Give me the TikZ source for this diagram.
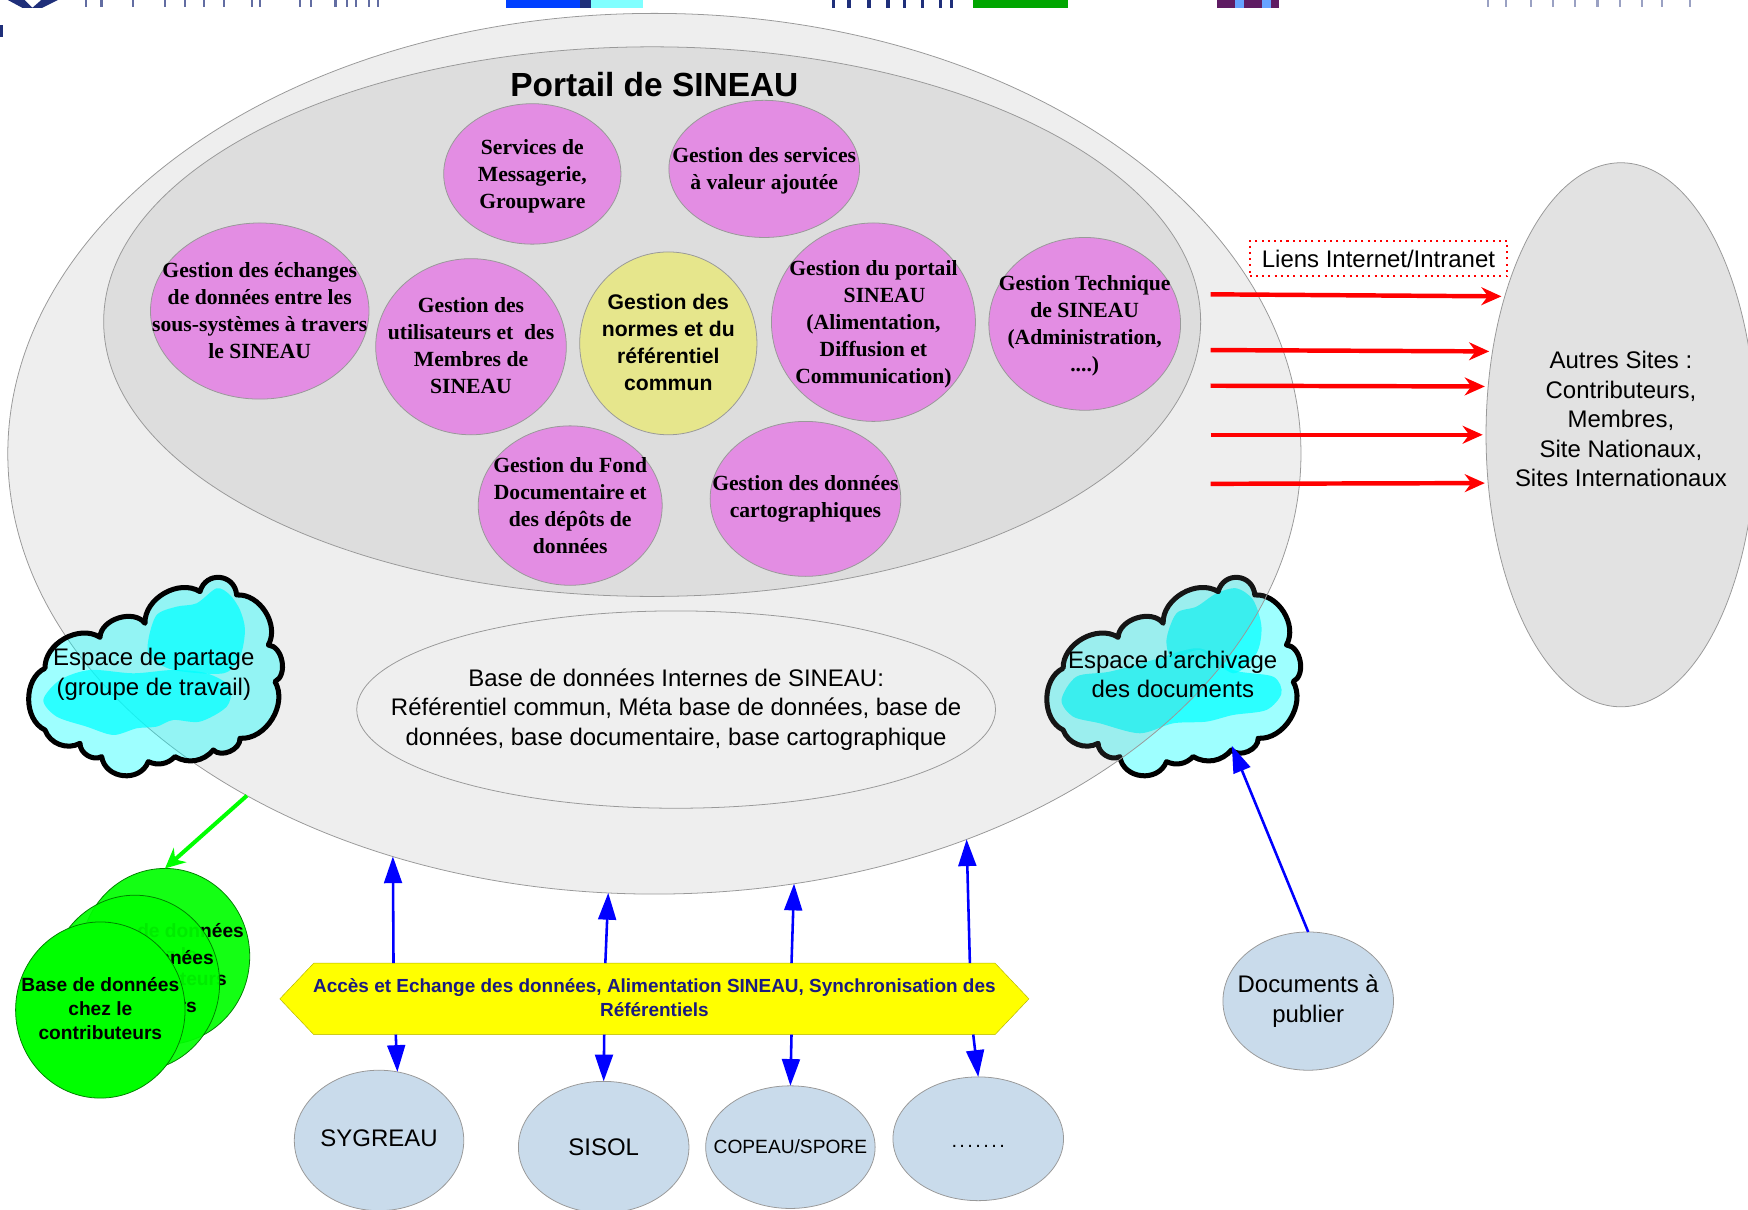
\documentclass[tikz,border=0pt]{standalone}
\usepackage{fontspec}
\setmainfont{Liberation Sans}
\newfontfamily\serifb{Liberation Serif}[BoldFont={Liberation Serif Bold}]
\usetikzlibrary{arrows.meta,shapes.geometric,shapes.symbols}
\definecolor{pinkf}{HTML}{E38DE3}
\definecolor{yellowf}{HTML}{E6E68C}
\definecolor{bluef}{HTML}{C9DBEB}
\definecolor{barnavy}{HTML}{1A1A80}
\definecolor{logonavy}{HTML}{1F2F7A}
\definecolor{cloudc}{RGB}{0,255,255}
\definecolor{barc}{RGB}{255,255,0}
\definecolor{shade}{RGB}{141,141,141}
\tikzset{
    pinktxt/.style={align=center,font=\fontsize{19.4}{24.2}\selectfont\serifb\bfseries},
    sanstxt/.style={align=center,font=\fontsize{21.5}{26.5}\selectfont},
    ell/.style={ellipse,draw=gray!80,line width=0.7pt,inner sep=0pt,outer sep=0pt},
    pinkell/.style={ell,fill=pinkf},
    blueell/.style={ell,fill=bluef},
    greenell/.style={ell,draw=green!50!black,fill=green,fill opacity=0.92,minimum width=152,minimum height=158,
        label={[align=center,yshift=1.5,font=\fontsize{17.2}{21.4}\selectfont\bfseries]center:{Base de données\\chez le\\contributeurs}}},
    redarrow/.style={draw=red,line width=4pt,shorten >=3pt,-{Stealth[length=18pt,width=16pt]}},
    bluearrow/.style={draw=blue,line width=2.3pt,-{Triangle[length=24pt,width=16pt]}},
    greenarrow/.style={draw=green,line width=3.6pt,-{Stealth[length=18pt,width=17pt]}},
    cloudedge/.style={draw=black,line width=4.5pt,line join=round},
    cloudfill/.style={fill=cloudc,fill opacity=0.38},
    blob/.style={fill=cloudc,fill opacity=0.72},
}
\newcommand\cloudline{(135,325) to[bend left=62] (300,232) to[bend left=70] (435,190) to[bend left=62] (600,95)
    to[bend left=80,looseness=1.5] (710,105) to[bend left=62] (805,255) to[bend left=75] (825,365) to[bend left=62] (720,535)
    to[bend left=70] (640,570) to[bend left=40] (525,590) to[bend left=35] (445,605) to[bend left=75,looseness=1.25] (305,590)
    to[bend left=60] (240,550) to[bend left=50] (135,510) to[bend left=65] cycle}
\begin{document}
\begin{tikzpicture}[x=1pt,y=-1pt]
    \useasboundingbox(0,0)rectangle(1568,1085);
    % bandeau du haut
    \fill[logonavy](7,0)--(22,0)--(29,7)--(37,0)--(52,0)--(38,7)--(20,7)--cycle;
    \foreach \x in {76,90,118,147,165,182,200,225,232,268,278,300,310,318,330,338}{\fill[logonavy!70](\x,0)rectangle++(2,6);}
    \fill[logonavy](0,22)rectangle(3,33);
    \fill[blue!75!cloudc](454,0)rectangle(520,7);
    \fill[logonavy](520,0)rectangle(530,7);
    \fill[cloudc!50](530,0)rectangle(577,7);
    \foreach \x in {746,760,778,795,810,826,842,852}{\fill[logonavy](\x,0)rectangle++(3,7);}
    \fill[green!65!black](873,0)rectangle(958,7);
    \fill[logonavy!60!purple](1092,0)rectangle(1147,7);
    \fill[cloudc!40!blue!60](1108,0)rectangle(1116,7);
    \fill[cloudc!40!blue!60](1132,0)rectangle(1140,7);
    \foreach \x in {1334,1350,1372,1392,1412,1432,1452,1472,1490,1515}{\fill[logonavy!45](\x,0)rectangle++(2,6);}
    % espace d'archivage sous le portail
    \begin{scope}[shift={(913.3,502.3)},scale=0.299]
        \fill[cloudfill]\cloudline;
        \fill[blob]plot[smooth cycle]coordinates{(445,240)(475,160)(535,140)(595,100)(655,85)(705,120)(730,200)(715,280)(645,340)(545,270)(465,300)};
        \fill[blob]plot[smooth cycle]coordinates{(130,420)(175,350)(275,335)(405,300)(545,265)(645,330)(765,350)(790,400)(745,450)(645,465)(565,485)(465,490)(365,520)(245,490)(165,470)};
        \draw[cloudedge]\cloudline;
    \end{scope}
    % ellipses du portail
    \node[ell,fill=shade,fill opacity=0.15,minimum width=1160,minimum height=790](portail) at (587,407){};
    \node[ell,fill={rgb,255:red,221;green,221;blue,221},minimum width=984,minimum height=493,
        label={[font=\fontsize{30}{32}\selectfont\bfseries,xshift=2,yshift=-48]north:Portail de SINEAU}](interne) at (585,288.5){};
    \node[pinkell,minimum width=159,minimum height=126,label={[pinktxt,yshift=-2]center:{Services de\\Messagerie,\\Groupware}}](services) at (477.5,156){};
    \node[pinkell,minimum width=171,minimum height=123,label={[pinktxt,yshift=-2]center:{Gestion des services\\à valeur ajoutée}}](valeur) at (685.5,151.5){};
    \node[pinkell,minimum width=196,minimum height=158,label={[pinktxt]center:{Gestion des échanges\\de données entre les\\sous-systèmes à travers\\le SINEAU}}](echanges) at (233,279){};
    \node[pinkell,minimum width=171,minimum height=158,label={[pinktxt,yshift=1]center:{Gestion des\\utilisateurs et\ \ des\\Membres de\\SINEAU}}](utilisateurs) at (422.5,311){};
    \node[ell,fill=yellowf,minimum width=159,minimum height=164,label={[align=center,font=\fontsize{19}{24.2}\selectfont\bfseries,yshift=1]center:{Gestion des\\normes et du\\référentiel\\commun}}](normes) at (599.5,308){};
    \node[pinkell,minimum width=183,minimum height=178,label={[pinktxt,yshift=-2]center:{Gestion du portail\\\hspace*{20pt}SINEAU\\(Alimentation,\\Diffusion et\\Communication)}}](gportail) at (783.5,289){};
    \node[pinkell,minimum width=172,minimum height=155,label={[pinktxt,yshift=-2]center:{Gestion Technique\\de SINEAU\\(Administration,\\....)}}](technique) at (973,290.5){};
    \node[pinkell,minimum width=165,minimum height=143,label={[pinktxt]center:{Gestion du Fond\\Documentaire et\\des dépôts de\\données}}](fond) at (511.5,453.5){};
    \node[pinkell,minimum width=171,minimum height=139,label={[pinktxt]center:{Gestion des données\\cartographiques}}](carto) at (722.5,447.5){};
    \node[ell,fill=shade!14!white,minimum width=573,minimum height=177,label={[sanstxt]center:{Base de données Internes de SINEAU:\\Référentiel commun, Méta base de données, base de\\données, base documentaire, base cartographique}}](interne2) at (606.5,636.5){};
    % espace de partage au dessus
    \begin{scope}[shift={(0,502.3)},scale=0.299]
        \fill[cloudfill]\cloudline;
        \fill[blob]plot[smooth cycle]coordinates{(445,240)(470,165)(530,140)(590,130)(650,85)(690,105)(720,150)(735,210)(720,290)(670,340)(520,330)(450,290)};
        \fill[blob]plot[smooth cycle]coordinates{(130,420)(180,360)(270,330)(400,340)(520,330)(620,340)(690,380)(680,440)(600,485)(520,480)(470,500)(410,505)(340,525)(260,500)(170,470)};
        \draw[cloudedge]\cloudline;
    \end{scope}
    \node[sanstxt](partage) at (138,605){Espace de partage\\(groupe de travail)};
    \node[sanstxt](archivage) at (1052,605){Espace d’archivage\\des documents};
    \coordinate(archtip) at (1105,669);
    % autres sites
    \node[ell,fill=shade!25!white,minimum width=242,minimum height=488,label={[sanstxt,yshift=14]center:{Autres Sites :\\Contributeurs,\\Membres,\\Site Nationaux,\\Sites Internationaux}}](autres) at (1454,390){};
    \node[draw=red,dash pattern=on 1.8pt off 3.8pt,line width=1.8pt,minimum width=231,minimum height=32,inner sep=0pt,font=\fontsize{21.5}{24}\selectfont](liens) at (1236.5,232){Liens Internet/Intranet};
    \foreach \name/\y/\ang in {a/264/130.6,b/314/147,c/346/160,d/390/180,e/434/200}{
        \coordinate(r\name) at (1086,\y);
        \draw[redarrow](r\name)--(autres.\ang);
    }
    % contributeurs
    \node[greenell](contribA) at (148,858){};
    \node[greenell](contribB) at (121,882){};
    \node[greenell,fill opacity=1](contribC) at (90,906){};
    \draw[greenarrow](portail.220.5)--(contribA.north);
    % barre et sous-systemes
    \node[signal,signal to=west and east,signal pointer angle=93,draw=barc!70!black,fill=barc,minimum width=672,minimum height=64,inner sep=0pt,outer sep=0pt,
        label={[text=barnavy,align=center,font=\fontsize{17}{21.5}\selectfont\bfseries,yshift=1]center:{Accès et Echange des données, Alimentation SINEAU, Synchronisation des\\Référentiels}}](acces) at (587,896){};
    \node[blueell,minimum width=152,minimum height=126,label={[font=\fontsize{21.5}{26}\selectfont,yshift=2]center:SYGREAU}](sygreau) at (340,1023){};
    \node[blueell,minimum width=153,minimum height=118,label={[font=\fontsize{21.5}{26}\selectfont]center:SISOL}](sisol) at (541.5,1029){};
    \node[blueell,minimum width=152,minimum height=110,label={[font=\fontsize{17.2}{22}\selectfont]center:COPEAU/SPORE}](copeau) at (709,1029){};
    \node[blueell,minimum width=153,minimum height=111,label={[font=\fontsize{18}{22}\selectfont\addfontfeature{LetterSpace=12},yshift=-7]center:.......}](autre) at (877.5,1021.5){};
    \node[blueell,minimum width=153,minimum height=124,label={[sanstxt]center:{Documents à\\publier}}](documents) at (1173.5,898){};
    \foreach \name/\xa/\xb/\angl/\target/\tip in {a/353/355/237/sygreau/75,b/543/542/264.4/sisol/90,c/710/710/288.3/copeau/90,d/870/873/309/autre/90}{
        \coordinate(h\name) at (\xa,864);
        \coordinate(b\name) at (\xb,928);
        \draw[bluearrow](h\name)--(portail.\angl);
        \draw[bluearrow](b\name)--(\target.\tip);
    }
    \draw[bluearrow](documents.north)--(archtip);
\end{tikzpicture}
\end{document}
